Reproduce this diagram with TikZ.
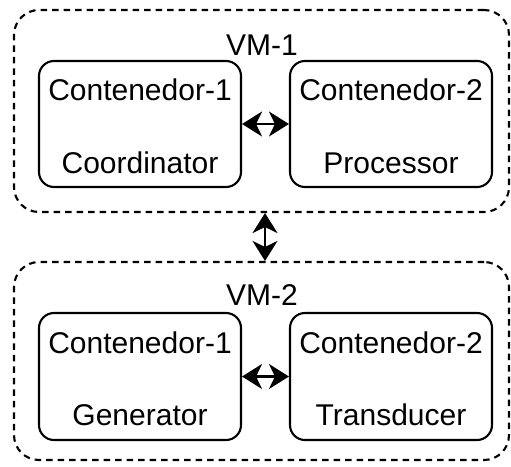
\documentclass[tikz,border=0pt]{standalone}
\usepackage{fontspec}
\setmainfont{Liberation Sans}
\usetikzlibrary{arrows.meta}
\begin{document}
\begin{tikzpicture}[x=1pt,y=-1pt,
  vmbox/.style={draw, line width=2.1pt, dash pattern=on 6.5pt off 5pt, rounded corners=25pt, minimum width=495pt, inner sep=0pt},
  ctbox/.style={draw, line width=2.1pt, rounded corners=15pt, minimum width=202pt, inner sep=0pt},
  lbl/.style={font=\fontsize{30}{34}\selectfont, inner sep=0pt, anchor=center},
  biarrow/.style={line width=2.1pt, {Stealth[length=20pt,width=25pt,inset=6pt]}-{Stealth[length=20pt,width=25pt,inset=6pt]}}]
\useasboundingbox (0,0) rectangle (511,466);
% VM-1
\node[vmbox, minimum height=202pt] (vm1) at (261.5,111) {};
\node[lbl] (vm1l) at (262,45) {VM-1};
\node[ctbox, minimum height=126pt] (c11) at (140,124) {};
\node[ctbox, minimum height=126pt] (c12) at (391,124) {};
\node[lbl] (t11a) at (140,90) {Contenedor-1};
\node[lbl] (t11b) at (140,163) {Coordinator};
\node[lbl] (t12a) at (391,90) {Contenedor-2};
\node[lbl] (t12b) at (391,163) {Processor};
% VM-2
\node[vmbox, minimum height=198pt] (vm2) at (261.5,361) {};
\node[lbl] (vm2l) at (262,295) {VM-2};
\node[ctbox, minimum height=127pt] (c21) at (140,376.5) {};
\node[ctbox, minimum height=127pt] (c22) at (391,376.5) {};
\node[lbl] (t21a) at (140,343) {Contenedor-1};
\node[lbl] (t21b) at (140,415) {Generator};
\node[lbl] (t22a) at (391,343) {Contenedor-2};
\node[lbl] (t22b) at (391,415) {Transducer};
% arrows
\draw[biarrow] (c11.east) -- (c12.west);
\draw[biarrow] (c21.east) -- (c22.west);
\draw[biarrow] ([xshift=3.5pt]vm1.south) -- ([xshift=3.5pt]vm2.north);
\end{tikzpicture}
\end{document}
